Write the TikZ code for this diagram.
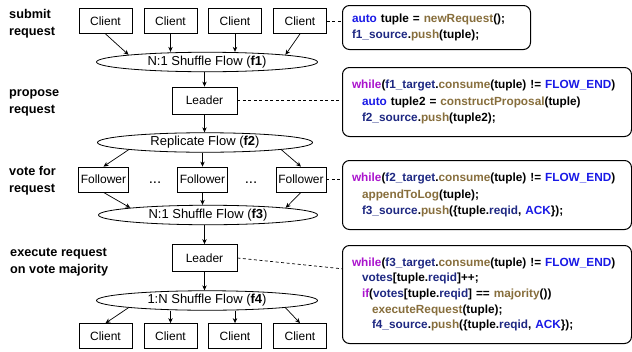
\documentclass[tikz,border=0pt]{standalone}
\usepackage{fontspec}
\setmainfont{Liberation Sans}
\usetikzlibrary{shapes.geometric,arrows.meta,calc}

% colours of the pseudo code
\definecolor{kwcol}{RGB}{170,20,205}
\definecolor{constcol}{RGB}{25,25,230}
\definecolor{varcol}{RGB}{30,40,130}
\definecolor{funcol}{RGB}{135,110,60}

\newcommand{\ckw}[1]{\textcolor{kwcol}{#1}}
\newcommand{\cconst}[1]{\textcolor{constcol}{#1}}
\newcommand{\cvar}[1]{\textcolor{varcol}{#1}}
\newcommand{\cfun}[1]{\textcolor{funcol}{#1}}

\tikzset{
  box/.style={draw, line width=0.8pt, inner sep=0pt, minimum height=25pt,
    font=\fontsize{12}{14}\selectfont},
  flow/.style={draw, ellipse, line width=0.8pt, inner sep=0pt, minimum height=19.5pt,
    font=\fontsize{13}{15}\selectfont},
  codebox/.style={draw, line width=1pt, rounded corners=7pt, anchor=north west,
    align=left, inner xsep=9.5pt, inner ysep=0pt,
    font=\bfseries\fontsize{11.8}{16.8}\selectfont},
  arr/.style={-{Stealth[length=5pt,width=4.5pt]}, line width=0.7pt},
  link/.style={line width=0.7pt, dash pattern=on 3pt off 2.5pt},
  lbl/.style={anchor=base west, align=left, inner sep=0pt,
    font=\bfseries\fontsize{12.7}{17}\selectfont},
}

\begin{document}
\begin{tikzpicture}[x=1pt,y=-1pt]
\useasboundingbox (0,0) rectangle (632,351);

% phase labels (placed at the baseline of the last line)
\node[lbl] (submit) at (9,35) {submit\\request};
\node[lbl] (propose) at (9,113.5) {propose\\request};
\node[lbl] (vote) at (9,192) {vote for\\request};
\node[lbl] (execute) at (10,273) {execute request\\on vote majority};

% clients sending requests
\node[box, minimum width=53pt] (c1) at (105.5,21) {Client};
\node[box, minimum width=53pt] (c2) at (170.5,21) {Client};
\node[box, minimum width=53pt] (c3) at (235,21) {Client};
\node[box, minimum width=53pt] (c4) at (300,21) {Client};

\node[flow, minimum width=221pt] (f1) at (207,62) {N:1 Shuffle Flow (\textbf{f1})};

\node[box, minimum width=65pt, minimum height=27pt] (l1) at (204.5,100.5) {Leader};

\node[flow, minimum width=215pt] (f2) at (205,142.5) {Replicate Flow (\textbf{f2})};

% followers
\node[box, minimum width=50pt] (fo1) at (103.5,179.5) {Follower};
\node[box, minimum width=50pt] (fo2) at (202.5,179.5) {Follower};
\node[box, minimum width=50pt] (fo3) at (301,179.5) {Follower};
\node[font=\fontsize{15}{15}\selectfont, inner sep=0pt] (d1) at (155,183) {...};
\node[font=\fontsize{15}{15}\selectfont, inner sep=0pt] (d2) at (251,183) {...};

\node[flow, minimum width=219pt] (f3) at (208,215) {N:1 Shuffle Flow (\textbf{f3})};

\node[box, minimum width=65pt, minimum height=27pt] (l2) at (204.5,258) {Leader};

\node[flow, minimum width=221pt] (f4) at (207,300.5) {1:N Shuffle Flow (\textbf{f4})};

% clients receiving acks
\node[box, minimum width=53pt] (c5) at (105.5,336) {Client};
\node[box, minimum width=53pt] (c6) at (170.5,336) {Client};
\node[box, minimum width=53pt] (c7) at (235,336) {Client};
\node[box, minimum width=53pt] (c8) at (300,336) {Client};

% code of each phase
\node[codebox, minimum width=188pt, minimum height=44pt, text width=169pt] (cb1) at (342,5)
  {\cconst{auto} tuple = \cfun{newRequest}();\\
   \cvar{f1\_source}.\cfun{push}(tuple);};
\node[codebox, minimum width=289pt, minimum height=69pt, text width=270pt] (cb2) at (342,67)
  {\ckw{while}(\cvar{f1\_target}.\cfun{consume}(tuple) != \cconst{FLOW\_END})\\
   \hspace*{10pt}\cconst{auto} tuple2 = \cfun{constructProposal}(tuple)\\
   \hspace*{10pt}\cvar{f2\_source}.\cfun{push}(tuple2);};
\node[codebox, minimum width=289pt, minimum height=69pt, text width=270pt] (cb3) at (342,160)
  {\ckw{while}(\cvar{f2\_target}.\cfun{consume}(tuple) != \cconst{FLOW\_END})\\
   \hspace*{10pt}\cfun{appendToLog}(tuple);\\
   \hspace*{10pt}\cvar{f3\_source}.\cfun{push}(\{tuple.\cvar{reqid}, \cconst{ACK}\});};
\node[codebox, minimum width=289pt, minimum height=98pt, text width=270pt,
  font=\bfseries\fontsize{11.8}{15.6}\selectfont] (cb4) at (342,245)
  {\ckw{while}(\cvar{f3\_target}.\cfun{consume}(tuple) != \cconst{FLOW\_END})\\
   \hspace*{10pt}\cvar{votes}[tuple.\cvar{reqid}]++;\\
   \hspace*{10pt}\ckw{if}(\cvar{votes}[tuple.\cvar{reqid}] == \cfun{majority}())\\
   \hspace*{20pt}\cfun{executeRequest}(tuple);\\
   \hspace*{20pt}\cvar{f4\_source}.\cfun{push}(\{tuple.\cvar{reqid}, \cconst{ACK}\});};
\coordinate (cb4in) at ($(cb4.north west)!0.24!(cb4.south west)$);

% data flow
\draw[arr] (c1.south) -- (f1.north west);
\draw[arr] (c2.south) -- (c2.south |- f1.north);
\draw[arr] (c3.south) -- (c3.south |- f1.north);
\draw[arr] (c4.south) -- (f1.north east);
\draw[arr] (l1.north |- f1.south) -- (l1.north);
\draw[arr] (l1.south) -- (l1.south |- f2.north);
\draw[arr] (f2.south west) -- (fo1.north);
\draw[arr] (fo2.north |- f2.south) -- (fo2.north);
\draw[arr] (f2.south east) -- (fo3.north);
\draw[arr] (fo1.south) -- (f3.north west);
\draw[arr] (fo2.south) -- (fo2.south |- f3.north);
\draw[arr] (fo3.south) -- (f3.north east);
\draw[arr] (l2.north |- f3.south) -- (l2.north);
\draw[arr] (l2.south) -- (l2.south |- f4.north);
\draw[arr] (f4.south west) -- (c5.north);
\draw[arr] (c6.north |- f4.south) -- (c6.north);
\draw[arr] (c7.north |- f4.south) -- (c7.north);
\draw[arr] (f4.south east) -- (c8.north);

% who runs which code
\draw[link] (c4.east) -- (c4.east -| cb1.west);
\draw[link] (l1.east) -- (l1.east -| cb2.west);
\draw[link] (fo3.east) -- (fo3.east -| cb3.west);
\draw[link] (l2.east) -- (cb4in);

\end{tikzpicture}
\end{document}
